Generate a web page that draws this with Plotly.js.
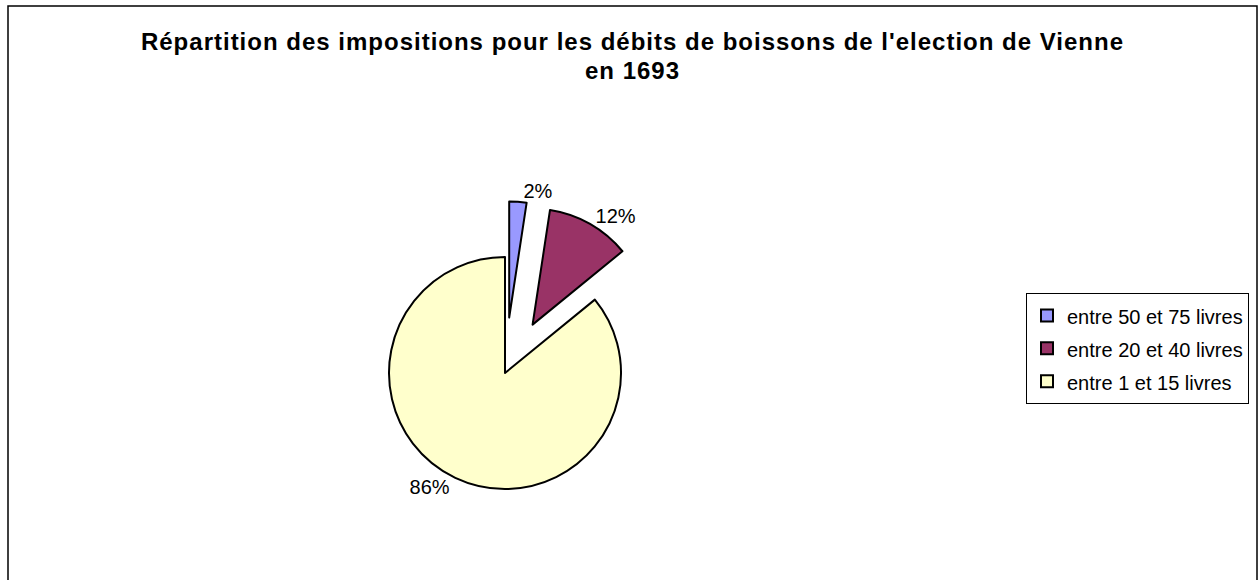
<!DOCTYPE html>
<html>
<head>
<meta charset="utf-8">
<script src="https://cdn.plot.ly/plotly-3.0.1.min.js"></script>
<style>html,body{margin:0;padding:0;background:#fff;}#chart{width:1258px;height:580px;}</style>
</head>
<body>
<div id="chart"></div>
<script>
const categories = ["entre 50 et 75 livres", "entre 20 et 40 livres", "entre 1 et 15 livres"];
const shares = [2.4, 11.7, 85.9];
const sliceColors = ["#9999FF", "#993366", "#FFFFCC"];
const pulls = [0.48, 0.48, 0];
const titleLines = ["Répartition des impositions pour les débits de boissons de l'election de Vienne", "en 1693"];

const W = 1258, H = 580;
const cx = 505, cy = 373, r = 116, maxPull = 0.48;
const half = r * (1 + maxPull);
const FONT = "Liberation Sans, Arial, sans-serif";

const span = (t, css) => '<span style="' + css + '">' + t + '</span>';

const trace = {
  type: "pie",
  labels: categories.map(c => span(c, "font-size:20px")),
  values: shares,
  sort: false,
  direction: "clockwise",
  rotation: 0,
  pull: pulls,
  marker: {colors: sliceColors, line: {color: "#000000", width: 2}},
  texttemplate: "%{percent:.0%}",
  textposition: "outside",
  textfont: {family: FONT, size: 20, color: "#000000"},
  hoverinfo: "percent",
  domain: {x: [(cx - half) / W, (cx + half) / W], y: [(H - cy - half) / H, (H - cy + half) / H]},
  automargin: false
};

const layout = {
  width: W, height: H,
  margin: {l: 0, r: 0, t: 0, b: 0},
  paper_bgcolor: "#ffffff",
  font: {family: FONT, color: "#000000"},
  title: {
    text: titleLines.map(t => span(t, "font-size:24px;letter-spacing:1px")).join("<br>"),
    font: {family: FONT, size: 22, color: "#000000", weight: "bold"},
    x: 632.5 / W, xanchor: "center",
    y: 1 - 50 / H, yanchor: "top", yref: "container"
  },
  showlegend: true,
  legend: {
    x: 1249 / W, xanchor: "right",
    y: 1 - 293 / H, yanchor: "top",
    bordercolor: "#000000", borderwidth: 1,
    bgcolor: "#ffffff",
    font: {family: FONT, size: 23, color: "#000000"}
  },
  shapes: [{
    type: "rect", xref: "paper", yref: "paper",
    x0: 8 / W, x1: 1257 / W, y0: -0.05, y1: 1 - 6 / H,
    line: {color: "#000000", width: 1.5}, fillcolor: "rgba(0,0,0,0)"
  }]
};

Plotly.newPlot("chart", [trace], layout, {displayModeBar: false, staticPlot: true});
</script>
</body>
</html>
